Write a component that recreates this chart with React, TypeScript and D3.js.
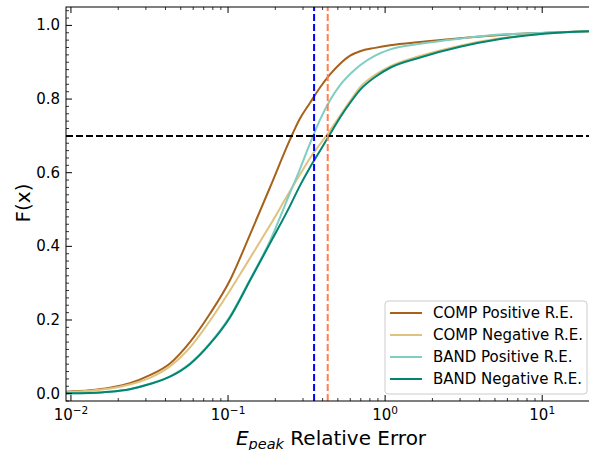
import React from "react";
import * as d3 from "d3";

const xGrid = [0.0093, 0.0132, 0.0177, 0.0237, 0.0318, 0.0427, 0.0572, 0.0767, 0.1029, 0.138, 0.185, 0.248, 0.287, 0.333, 0.386, 0.446, 0.517, 0.599, 0.693, 0.864, 1.076, 1.67, 3.0, 5.4, 10.5, 22];
const compPositive = [0.005, 0.009, 0.016, 0.028, 0.05, 0.082, 0.14, 0.217, 0.308, 0.432, 0.56, 0.69, 0.747, 0.79, 0.832, 0.867, 0.896, 0.918, 0.93, 0.939, 0.946, 0.955, 0.965, 0.974, 0.98, 0.985];
const compNegative = [0.004, 0.008, 0.014, 0.025, 0.043, 0.074, 0.125, 0.198, 0.28, 0.368, 0.457, 0.55, 0.595, 0.64, 0.678, 0.715, 0.755, 0.795, 0.832, 0.866, 0.889, 0.917, 0.945, 0.965, 0.978, 0.985];
const bandPositive = [0.001, 0.002, 0.005, 0.012, 0.027, 0.047, 0.082, 0.137, 0.21, 0.31, 0.415, 0.545, 0.61, 0.68, 0.745, 0.797, 0.838, 0.868, 0.892, 0.918, 0.935, 0.95, 0.964, 0.975, 0.98, 0.985];
const bandNegative = [0.001, 0.002, 0.005, 0.012, 0.026, 0.046, 0.08, 0.135, 0.207, 0.307, 0.408, 0.51, 0.565, 0.615, 0.66, 0.705, 0.75, 0.79, 0.825, 0.86, 0.885, 0.913, 0.942, 0.963, 0.978, 0.985];

const seriesNames = ["COMP Positive R.E.", "COMP Negative R.E.", "BAND Positive R.E.", "BAND Negative R.E."];
const seriesValues = [compPositive, compNegative, bandPositive, bandNegative];
const seriesColors = ["#a6611a", "#dfc27d", "#80cdc1", "#018571"];

const vLines = [
  { x: 0.353, color: "#0000ff" },
  { x: 0.431, color: "#ff7f50" },
];
const hLineY = 0.7;

const yTicks = [0, 0.2, 0.4, 0.6, 0.8, 1.0];
const xTickExps = [-2, -1, 0, 1];

const W = 589, H = 450;
const L = 66, R = 596, T = 7, B = 401;
const FONT = "DejaVu Sans, sans-serif";
const TICK_FS = 15;

export default function App() {
  const x = d3.scaleLog().domain([0.0093, 22]).range([L, R]);
  const y = d3.scaleLinear().domain([-0.02, 1.05]).range([B, T]);

  const line = d3
    .line<number>()
    .x((_, i) => x(xGrid[i]))
    .y((d) => y(d))
    .curve(d3.curveMonotoneX);

  const minorX: number[] = [];
  for (let e = -3; e <= 1; e++) {
    for (let m = 2; m <= 9; m++) {
      const v = m * Math.pow(10, e);
      if (v > 0.0093 && v < 22) minorX.push(v);
    }
  }
  const minorY: number[] = [];
  for (let i = -1; i <= 52; i++) {
    const v = i * 0.02;
    if (v >= -0.02 && v <= 1.05 && Math.abs(v * 5 - Math.round(v * 5)) > 1e-6) minorY.push(v);
  }

  return (
    <svg width={W} height={H} style={{ position: "absolute", left: 0, top: 0 }} fontFamily={FONT}>
      <rect x={0} y={0} width={W} height={H} fill="white" />
      <defs>
        <clipPath id="plot">
          <rect x={L} y={T} width={R - L} height={B - T} />
        </clipPath>
      </defs>
      <g clipPath="url(#plot)">
        {seriesValues.map((vals, i) => (
          <path key={i} d={line(vals) || ""} fill="none" stroke={seriesColors[i]} strokeWidth={2} />
        ))}
        <line x1={L} x2={R} y1={y(hLineY)} y2={y(hLineY)} stroke="black" strokeWidth={2} strokeDasharray="7,3" />
        {vLines.map((v, i) => (
          <line key={i} x1={x(v.x)} x2={x(v.x)} y1={B} y2={T} stroke={v.color} strokeWidth={2} strokeDasharray="7,3" />
        ))}
      </g>

      {/* spines */}
      <rect x={L} y={T} width={R - L} height={B - T} fill="none" stroke="black" strokeWidth={1} />

      {/* y ticks */}
      {yTicks.map((t) => (
        <g key={"y" + t}>
          <line x1={L} x2={L + 6} y1={y(t)} y2={y(t)} stroke="black" strokeWidth={1} />
          <line x1={R} x2={R - 6} y1={y(t)} y2={y(t)} stroke="black" strokeWidth={1} />
          <text x={L - 6} y={y(t)} textAnchor="end" dominantBaseline="central" fontSize={TICK_FS}>
            {t.toFixed(1)}
          </text>
        </g>
      ))}
      {minorY.map((t, i) => (
        <g key={"my" + i}>
          <line x1={L} x2={L + 3} y1={y(t)} y2={y(t)} stroke="black" strokeWidth={0.8} />
          <line x1={R} x2={R - 3} y1={y(t)} y2={y(t)} stroke="black" strokeWidth={0.8} />
        </g>
      ))}

      {/* x ticks */}
      {xTickExps.map((e) => {
        const px = x(Math.pow(10, e));
        const sup = e < 0 ? "\u2212" + Math.abs(e) : String(e);
        return (
          <g key={"x" + e}>
            <line x1={px} x2={px} y1={B} y2={B - 6} stroke="black" strokeWidth={1} />
            <line x1={px} x2={px} y1={T} y2={T + 6} stroke="black" strokeWidth={1} />
            <text x={px} y={420} textAnchor="middle" fontSize={TICK_FS}>
              10
              <tspan fontSize={10.5} dy={-6}>{sup}</tspan>
            </text>
          </g>
        );
      })}
      {minorX.map((v, i) => (
        <g key={"mx" + i}>
          <line x1={x(v)} x2={x(v)} y1={B} y2={B - 3} stroke="black" strokeWidth={0.8} />
          <line x1={x(v)} x2={x(v)} y1={T} y2={T + 3} stroke="black" strokeWidth={0.8} />
        </g>
      ))}

      {/* axis labels */}
      <text x={331} y={445} textAnchor="middle" fontSize={20}>
        <tspan fontStyle="italic">E</tspan>
        <tspan fontStyle="italic" fontSize={14.5} dy={4}>peak</tspan>
        <tspan dy={-4}> Relative Error</tspan>
      </text>
      <text transform={`translate(30, 203) rotate(-90)`} textAnchor="middle" fontSize={20}>
        F(x)
      </text>

      {/* legend */}
      <g>
        <rect x={385} y={301} width={202} height={93} rx={3} fill="white" fillOpacity={0.8} stroke="#cccccc" strokeWidth={1} />
        {seriesNames.map((name, i) => {
          const ly = 313 + i * 22;
          return (
            <g key={name}>
              <line x1={390} x2={422} y1={ly} y2={ly} stroke={seriesColors[i]} strokeWidth={2} />
              <text x={433} y={ly} dominantBaseline="central" fontSize={TICK_FS}>
                {name}
              </text>
            </g>
          );
        })}
      </g>
    </svg>
  );
}
